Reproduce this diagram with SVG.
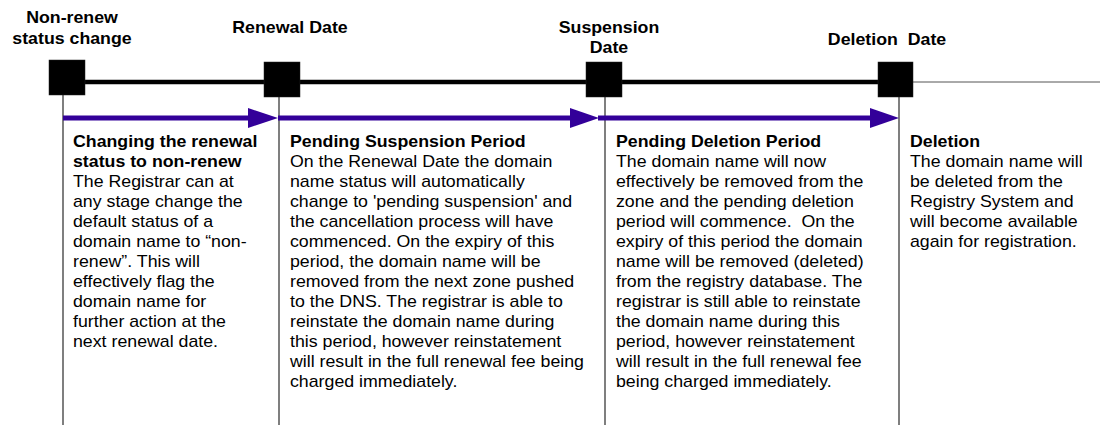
<svg xmlns="http://www.w3.org/2000/svg" width="1100" height="425" viewBox="0 0 1100 425">
<defs>
<style>
text{font-family:"Liberation Sans",Arial,sans-serif;font-size:16px;fill:#000;white-space:pre}
.b{font-weight:bold}
.lbl{font-weight:bold;text-anchor:middle}
.sq{fill:#000;stroke:#222;stroke-width:0.5}
.vl{stroke:#555;stroke-width:1.5;fill:none}
.arr{stroke:#330099;stroke-width:5;fill:none}
.ah{fill:#330099}
</style>
</defs>
<rect width="1100" height="425" fill="#fff"/>
<g id="connectors">
<line x1="85" y1="82" x2="878" y2="82" stroke="#000" stroke-width="4.5"/>
<line x1="913" y1="82" x2="1100" y2="82" stroke="#555" stroke-width="1"/>
<line class="vl" x1="63" y1="95" x2="63" y2="425"/>
<line class="vl" x1="279" y1="97" x2="279" y2="425"/>
<line class="vl" x1="605" y1="97" x2="605" y2="425"/>
<line class="vl" x1="899" y1="97" x2="899" y2="425"/>
<line class="arr" x1="63" y1="118" x2="250" y2="118"/>
<polygon class="ah" points="248,108 278,118 248,128"/>
<line class="arr" x1="278" y1="118" x2="572" y2="118"/>
<polygon class="ah" points="570,108 599,118 570,128"/>
<line class="arr" x1="598" y1="118" x2="872" y2="118"/>
<polygon class="ah" points="870,108 899,118 870,128"/>
</g>
<g id="node-nonrenew">
<rect class="sq" x="49" y="60" width="36" height="35"/>
<text class="lbl" transform="translate(72,23) scale(1.11,1)"><tspan x="0">Non-renew</tspan><tspan x="0" dy="21">status change</tspan></text>
<text transform="translate(73,147) scale(1.11,1)"><tspan class="b" x="0">Changing the renewal</tspan><tspan class="b" x="0" dy="20">status to non-renew</tspan><tspan x="0" dy="20">The Registrar can at</tspan><tspan x="0" dy="20">any stage change the</tspan><tspan x="0" dy="20">default status of a</tspan><tspan x="0" dy="20">domain name to “non-</tspan><tspan x="0" dy="20">renew”. This will</tspan><tspan x="0" dy="20">effectively flag the</tspan><tspan x="0" dy="20">domain name for</tspan><tspan x="0" dy="20">further action at the</tspan><tspan x="0" dy="20">next renewal date.</tspan></text>
</g>
<g id="node-renewal">
<rect class="sq" x="264" y="62" width="36" height="35"/>
<text class="lbl" transform="translate(290,33) scale(1.11,1)"><tspan x="0">Renewal Date</tspan></text>
<text transform="translate(290,147) scale(1.11,1)"><tspan class="b" x="0">Pending Suspension Period</tspan><tspan x="0" dy="20">On the Renewal Date the domain</tspan><tspan x="0" dy="20">name status will automatically</tspan><tspan x="0" dy="20">change to 'pending suspension' and</tspan><tspan x="0" dy="20">the cancellation process will have</tspan><tspan x="0" dy="20">commenced. On the expiry of this</tspan><tspan x="0" dy="20">period, the domain name will be</tspan><tspan x="0" dy="20">removed from the next zone pushed</tspan><tspan x="0" dy="20">to the DNS. The registrar is able to</tspan><tspan x="0" dy="20">reinstate the domain name during</tspan><tspan x="0" dy="20">this period, however reinstatement</tspan><tspan x="0" dy="20">will result in the full renewal fee being</tspan><tspan x="0" dy="20">charged immediately.</tspan></text>
</g>
<g id="node-suspension">
<rect class="sq" x="586" y="62" width="36" height="35"/>
<text class="lbl" transform="translate(609,33) scale(1.11,1)"><tspan x="0">Suspension</tspan><tspan x="0" dy="20">Date</tspan></text>
<text transform="translate(616,147) scale(1.11,1)"><tspan class="b" x="0">Pending Deletion Period</tspan><tspan x="0" dy="20">The domain name will now</tspan><tspan x="0" dy="20">effectively be removed from the</tspan><tspan x="0" dy="20">zone and the pending deletion</tspan><tspan x="0" dy="20">period will commence.  On the</tspan><tspan x="0" dy="20">expiry of this period the domain</tspan><tspan x="0" dy="20">name will be removed (deleted)</tspan><tspan x="0" dy="20">from the registry database. The</tspan><tspan x="0" dy="20">registrar is still able to reinstate</tspan><tspan x="0" dy="20">the domain name during this</tspan><tspan x="0" dy="20">period, however reinstatement</tspan><tspan x="0" dy="20">will result in the full renewal fee</tspan><tspan x="0" dy="20">being charged immediately.</tspan></text>
</g>
<g id="node-deletion">
<rect class="sq" x="878" y="62" width="35" height="35"/>
<text class="lbl" transform="translate(887,45) scale(1.11,1)"><tspan x="0">Deletion  Date</tspan></text>
<text transform="translate(910,147) scale(1.11,1)"><tspan class="b" x="0">Deletion</tspan><tspan x="0" dy="20">The domain name will</tspan><tspan x="0" dy="20">be deleted from the</tspan><tspan x="0" dy="20">Registry System and</tspan><tspan x="0" dy="20">will become available</tspan><tspan x="0" dy="20">again for registration.</tspan></text>
</g>
</svg>
